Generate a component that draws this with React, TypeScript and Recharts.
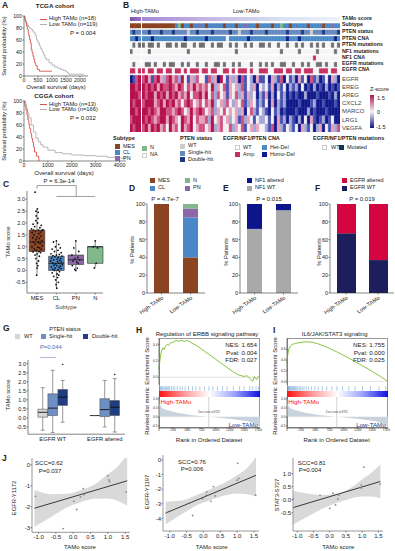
import React from "react";
import {
  LineChart, Line, XAxis, YAxis, BarChart, Bar, Cell, ComposedChart, Scatter,
  ReferenceArea, ReferenceLine, Area, AreaChart, ScatterChart,
} from "recharts";

const FONT = "'Liberation Sans', Arial, Helvetica, sans-serif";

// ---------- A: Kaplan-Meier ----------
const tcgaHighT = [0, 30, 60, 90, 120, 150, 170, 200, 230, 260, 290, 320, 350, 380, 420, 470, 550, 1000];
const tcgaHighS = [100, 94, 89, 83, 78, 72, 67, 61, 55, 44, 39, 33, 28, 22, 17, 11, 8, 8];
const tcgaLowT = [0, 20, 50, 80, 120, 160, 200, 250, 300, 350, 400, 450, 500, 550, 600, 650, 700, 750, 800, 900, 1000, 1100, 1200, 1300, 1400, 1500, 1550, 1600, 2150];
const tcgaLowS = [100, 97, 92, 88, 85, 82, 80, 78, 75, 72, 67, 60, 55, 50, 45, 40, 35, 30, 27, 22, 18, 15, 13, 11, 9, 7, 5, 3, 3];
const cggaHighT = [0, 40, 80, 120, 160, 200, 240, 280, 320, 360, 400, 440, 520, 620];
const cggaHighS = [100, 92, 85, 77, 69, 61, 54, 46, 38, 31, 23, 15, 8, 0];
const cggaLowT = [0, 50, 100, 150, 200, 300, 400, 500, 600, 700, 800, 1000, 1300, 1600, 2000, 2500, 3000, 3500, 4000, 4400];
const cggaLowS = [100, 95, 88, 80, 72, 60, 48, 38, 32, 27, 23, 18, 14, 12, 10, 9, 8, 6, 5, 5];

// ---------- B: heatmap (High-TAMo 4 columns, Low-TAMo 66 columns) ----------
const geneNames = ["EGFR", "EREG", "AREG", "CXCL2", "MARCO", "LRG1", "VEGFA"];
const trackNames = ["TAMo score", "Subtype", "PTEN status", "PTEN CNA", "PTEN mutations", "NF1 mutations", "NF1 CNA", "EGFR mutations", "EGFR CNA"];

const hiSubtype = "MMMM";
const hiPtenStatus = "SDSS";
const hiPtenCna = "HHOH";
const hiPtenMut = ".X.X";
const hiNf1Mut = "X...";
const hiNf1Cna = "....";
const hiEgfrMut = ".X..";
const hiEgfrCna = "AA.A";
const hiGenes = ["0156", "6656", "6665", "6566", "6656", "5666", "6566"];

const loSubtype = ["MMMMMMMMMM", "MCNMCCMCCP", "CMCCCCCMCC", "CMCCPCCCMC", "CCCMCCNCCM", "CCCCCMCCCC", "MCCPCC"].join("");
const loPtenStatus = ["SSDSSSDSSS", "DSSSSWSSDS", "SSSDSSSSSD", "SSWSSSDSSS", "SDSSSSSSDS", "SSSDSSWSSS", "DSSSSD"].join("");
const loPtenCna = ["HHHOHHHHHH", "HHHHOHHHHH", "HOHHHHHHWH", "HHHHHOHHHH", "HHHHHHHHOH", "HHOHHHHHHH", "HHHHOH"].join("");
const loPtenMut = ["X.XX.X..XX", ".X.XX..X.X", "X..X.XX..X", ".X..X.X..X", "X.X..X..X.", ".X.X..X.X.", "X..X.X"].join("");
const loNf1Mut = ["..X.......", ".....X....", "..........", ".X........", "......X...", "..X.....X.", "....X."].join("");
const loNf1Cna = ["..........", "..........", "..........", "..........", "..........", ".......A..", "......"].join("");
const loEgfrMut = [".XX.X..X.X", "X..X.X..X.", ".X..XX.X..", "X.X...X..X", ".X.X..XX..", "X..X.X..XX", ".X..X."].join("");
const loEgfrCna = ["A.AA.AA.AA", ".AA.A.AAA.", "AA.AA..AA.", "A.AAA.A..A", "AA..AAA.AA", ".AA.AAA..A", "AA.AA."].join("");
const loGenes = [
  ["5641564256", "4526314253", "3152406314", "2405132041", "1304215031", "2041305120", "130420"],
  ["6565646556", "5465354645", "4536243514", "3425132403", "2314021302", "1203010201", "020101"],
  ["6566465646", "5645463556", "4635253414", "3524142302", "1402031201", "0100200010", "001020"],
  ["5666456465", "6453565345", "3546234253", "2435124312", "1304021200", "0010001200", "100010"],
  ["6656546655", "4565346456", "5345243534", "3424035213", "2103120100", "0100020100", "010000"],
  ["6565456646", "5436546354", "4526345342", "3415243132", "2313041202", "1020304101", "201300"],
  ["5646564536", "4536456345", "5346245335", "2435134243", "3215042132", "1304213024", "031425"],
].map((g) => g.join(""));

// ---------- C: TAMo score by subtype ----------
const subtypes = ["MES", "CL", "PN", "N"];
const cLo = [-0.2, -0.75, 0.0, 0.1];
const cQ1 = [0.8, 0.0, 0.25, 0.3];
const cMed = [1.2, 0.3, 0.45, 1.0];
const cQ3 = [1.7, 0.6, 0.65, 1.0];
const cHi = [2.6, 1.25, 1.25, 1.25];
const mesY = [3.3, 2.6, 2.5, 2.45, 2.3, 2.2, 2.1, 2.0, 1.95, 1.9, 1.85, 1.8, 1.75, 1.72, 1.7, 1.7, 1.68, 1.65, 1.62, 1.6, 1.55, 1.5, 1.45, 1.4, 1.38, 1.35, 1.3, 1.25, 1.2, 1.18, 1.15, 1.1, 1.05, 1.0, 0.98, 0.95, 0.9, 0.88, 0.85, 0.8, 0.78, 0.75, 0.7, 0.65, 0.6, 0.5, 0.4, 0.3, 0.2, 0.1, -0.2];
const mesDx = [-0.1, 0.02, -0.05, 0.06, -0.04, 0.05, -0.06, 0.03, -0.2, 0.22, -0.12, 0.15, -0.28, 0.3, -0.18, 0.08, 0.25, -0.08, 0.18, -0.25, 0.1, -0.15, 0.2, 0.0, -0.22, 0.12, -0.05, 0.24, -0.18, 0.06, 0.16, -0.1, 0.26, -0.26, 0.04, 0.14, -0.14, 0.22, -0.04, 0.1, -0.2, 0.18, 0.0, -0.1, 0.12, -0.06, 0.08, -0.02, 0.04, 0.0, -0.02];
const clY = [1.25, 1.2, 1.1, 1.0, 0.95, 0.9, 0.85, 0.8, 0.75, 0.7, 0.68, 0.65, 0.62, 0.6, 0.58, 0.55, 0.52, 0.5, 0.48, 0.45, 0.42, 0.4, 0.38, 0.35, 0.32, 0.3, 0.28, 0.25, 0.22, 0.2, 0.18, 0.15, 0.12, 0.1, 0.08, 0.05, 0.02, 0.0, -0.05, -0.1, -0.15, -0.2, -0.25, -0.3, -0.4, -0.5, -0.6, -0.75];
const clDx = [0.0, -0.15, 0.12, -0.05, 0.2, -0.22, 0.08, -0.1, 0.25, -0.28, 0.15, 0.0, -0.18, 0.28, -0.08, 0.1, -0.25, 0.22, 0.04, -0.14, 0.18, -0.3, 0.06, 0.26, -0.2, 0.12, -0.04, 0.3, -0.12, 0.02, 0.2, -0.26, 0.14, -0.06, 0.24, -0.18, 0.08, -0.1, 0.16, -0.22, 0.04, 0.12, -0.14, 0.06, -0.04, 0.1, -0.02, 0.02];
const pnY = [1.25, 0.95, 0.8, 0.65, 0.55, 0.5, 0.45, 0.4, 0.35, 0.3, 0.2, 0.1, 0.05, 0.0];
const pnDx = [0.0, -0.1, 0.15, -0.2, 0.1, -0.05, 0.2, -0.15, 0.05, 0.12, -0.18, 0.08, -0.06, 0.0];
const nY = [1.25, 1.0, 0.95, 0.3, 0.1];
const nDx = [0.0, -0.1, 0.12, 0.05, -0.05];

// ---------- D/E/F: % patients ----------
const groups = ["High-TAMo", "Low-TAMo"];
const dMes = [100, 40];
const dCl = [0, 45];
const dPn = [0, 10];
const dN = [0, 5];
const eWt = [72, 93];
const eAlt = [28, 7];
const fWt = [67, 37];
const fAlt = [33, 63];

// ---------- G: PTEN status within EGFR groups ----------
const gPos = [1, 2, 3, 6.2, 7.2, 8.2];
const gLo = [-0.68, -0.81, -0.24, 0.13, -0.5, -0.78];
const gQ1 = [0.04, 0.13, 0.69, 0.13, 0.07, 0.13];
const gMed = [0.31, 0.54, 1.15, 0.13, 0.46, 0.59];
const gQ3 = [0.48, 1.33, 1.57, 0.13, 1.06, 0.96];
const gHi = [1.67, 2.63, 2.07, 0.13, 2.07, 2.17];
const gOutX = [3, 8.2];
const gOutY = [2.95, 2.4];

// ---------- H/I: GSEA ----------
const hEsX = [0, 150, 300, 500, 700, 900, 1100, 1400, 1700, 2000, 2500, 3000, 3500, 4000, 4500, 5000, 5500, 6000, 7000, 8000, 9000, 10000, 11000, 12000, 13000, 14000, 15000, 15500, 16000, 16500, 16800, 17200, 17500, 17800];
const hEsY = [0.1, 0.2, 0.28, 0.33, 0.36, 0.34, 0.38, 0.4, 0.39, 0.42, 0.43, 0.45, 0.44, 0.45, 0.44, 0.45, 0.43, 0.41, 0.37, 0.32, 0.27, 0.22, 0.17, 0.12, 0.07, 0.03, 0.01, 0.02, -0.01, -0.05, 0.01, -0.03, 0.01, 0.0];
const hHits = [100, 250, 400, 550, 700, 900, 1100, 1300, 1450, 1700, 1900, 2200, 2500, 2800, 3200, 3700, 4100, 4600, 5200, 5900, 6500, 7200, 8000, 8800, 9500, 10300, 11200, 12000, 13100, 14200, 15000, 16000, 16500, 17100, 17500];
const iEsX = [0, 100, 300, 600, 900, 1500, 2500, 3500, 4500, 5500, 7000, 9000, 11000, 13000, 15000, 16500, 17800];
const iEsY = [0.33, 0.48, 0.6, 0.66, 0.69, 0.71, 0.73, 0.74, 0.73, 0.7, 0.64, 0.54, 0.43, 0.31, 0.19, 0.09, 0.0];
const iHits = [50, 150, 250, 350, 450, 550, 700, 850, 1000, 1150, 1300, 1500, 1700, 1900, 2150, 2400, 2700, 3000, 3400, 3800, 4300, 4900, 5500, 6200, 7000, 7900, 8800, 9800, 10900, 12000, 13300, 14700, 16200, 17400];
const rankX = [0, 150, 400, 800, 1500, 2500, 4000, 6000, 8762, 11000, 13000, 15000, 16200, 17000, 17500, 17800];
const rankM = [1.05, 0.7, 0.55, 0.45, 0.36, 0.28, 0.18, 0.09, 0, -0.07, -0.14, -0.22, -0.3, -0.4, -0.5, -0.6];

// ---------- J: correlations ----------
const j1X = [-1.09, -0.29, 0.02, 0.1, 0.21, 0.29, 0.31, 1.0, 1.03, 1.05, 1.53];
const j1Y = [-1.5, -3.04, -1.74, -2.13, -1.53, -1.13, -1.42, -0.52, -0.72, -0.8, -1.29];
const j2X = [-1.1, -0.32, -0.02, 0.08, 0.1, 0.22, 0.3, 0.35, 1.0, 1.05, 1.02, 1.55];
const j2Y = [-3.6, -3.8, -2.64, -2.41, -2.18, -2.83, -1.82, -2.46, -1.38, -1.26, -0.23, -2.41];
const j3X = [-1.12, -0.3, 0.0, 0.1, 0.18, 0.25, 0.28, 0.97, 0.97, 1.05, 1.55];
const j3Y = [0.03, 0.17, -0.33, 0.25, -0.2, 0.03, 0.17, 0.56, 0.45, 1.25, 0.6];
const fitX = [-1.12, 1.56];
const j1Fit = [-2.07, -0.76];
const j2Fit = [-3.63, -1.05];
const j3Fit = [-0.3, 0.7];
const bandX = [-1.12, -0.6, -0.2, 0.2, 0.6, 1.0, 1.3, 1.56];
const j1Lo = [-2.95, -2.45, -2.05, -1.8, -1.62, -1.6, -1.72, -1.95];
const j1Hi = [-1.2, -1.4, -1.38, -1.22, -0.95, -0.45, -0.05, 0.5];
const j2Lo = [-4.4, -3.65, -3.1, -2.75, -2.45, -2.3, -2.35, -2.5];
const j2Hi = [-2.85, -2.75, -2.4, -2.0, -1.6, -1.05, -0.55, 0.2];
const j3Lo = [-0.95, -0.6, -0.33, -0.13, 0.03, 0.12, 0.12, 0.05];
const j3Hi = [0.33, 0.22, 0.18, 0.23, 0.42, 0.78, 1.05, 1.35];

// ---------- styles ----------
const HEAT = ["#10188a", "#4650b0", "#a3a8d6", "#f4f1f4", "#e6a3bb", "#d05282", "#b3124b"];
const SUB_C: any = { M: "#8b4422", C: "#4a87c6", P: "#8c68a8", N: "#80b88a", A: "#ffffff" };
const PS_C: any = { W: "#cccccc", S: "#6688bf", D: "#1d3a80" };
const CNA_C: any = { ".": "#f6f6f8", W: "#f6f6f8", A: "#c7305e", H: "#4b8bc9", O: "#0d1a8c" };
const MUT_C: any = { ".": "#f6f6f8", X: "#6f6f6f" };
const ax = { stroke: "#333", strokeWidth: 0.6 };
const tk = (s = 5.5) => ({ fontSize: s, fill: "#222", fontFamily: FONT });
const f1 = (v: number) => v.toFixed(1);

const T = ({ x, y, s = 6, b, c = "#222", a = "l", rot, children }: any) => {
  const tx = a === "m" ? "-50%" : a === "r" ? "-100%" : "0";
  return (
    <div style={{
      position: "absolute", left: x, top: y, fontSize: s, fontWeight: b ? 700 : 400, color: c,
      whiteSpace: "nowrap", lineHeight: 1,
      transform: rot ? "translate(-50%,-50%) rotate(-90deg)" : `translate(${tx},-50%)`,
    }}>{children}</div>
  );
};
const Sw = ({ x, y, c, w = 5, h = 5, bd }: any) => (
  <div style={{ position: "absolute", left: x, top: y, width: w, height: h, background: c, boxSizing: "border-box", border: bd ? `0.5px solid ${bd}` : undefined }} />
);
const Ln = ({ x, y, w, c }: any) => (
  <div style={{ position: "absolute", left: x, top: y, width: w, height: 0, borderTop: `1px solid ${c}` }} />
);
const dot = (r: number, c: string) => (p: any) => <circle cx={p.cx} cy={p.cy} r={r} fill={c} />;

function KM({ x0, y0, w, h, xMax, xTicks, hiT, hiS, loT, loS }: any) {
  const yW = 13, xH = 9, mt = 3, mr = 4;
  const hi = hiT.map((t: number, i: number) => ({ t, s: hiS[i] }));
  const lo = loT.map((t: number, i: number) => ({ t, s: loS[i] }));
  return (
    <div style={{ position: "absolute", left: x0 - yW, top: y0 - mt }}>
      <LineChart width={yW + w + mr} height={mt + h + xH} margin={{ top: mt, right: mr, bottom: 0, left: 0 }}>
        <XAxis type="number" dataKey="t" domain={[0, xMax]} ticks={xTicks} interval={0} height={xH} tick={tk(5.3)} tickSize={1.5} tickMargin={0.5} axisLine={ax} tickLine={ax} allowDataOverflow />
        <YAxis type="number" dataKey="s" domain={[0, 100]} ticks={[0, 20, 40, 60, 80, 100]} interval={0} width={yW} tick={tk(5.3)} tickSize={1.5} tickMargin={0.5} axisLine={ax} tickLine={ax} />
        <Line data={lo} dataKey="s" type="stepAfter" stroke="#b0b0b0" strokeWidth={0.9} dot={false} isAnimationActive={false} />
        <Line data={hi} dataKey="s" type="stepAfter" stroke="#d9534f" strokeWidth={0.9} dot={false} isAnimationActive={false} />
      </LineChart>
    </div>
  );
}

const TH = 4.6, TG = 1.85, GG = 2.1, GH = 8.1, HEAT_H = 115;

function HeatSection({ left, width, s }: any) {
  const tracks = [
    { str: s.sub, map: null },
    { str: s.sub, map: SUB_C },
    { str: s.ps, map: PS_C },
    { str: s.pc, map: CNA_C },
    { str: s.pm, map: MUT_C },
    { str: s.nm, map: MUT_C },
    { str: s.nc, map: CNA_C },
    { str: s.em, map: MUT_C },
    { str: s.ec, map: CNA_C },
  ];
  const layers: any[] = [];
  tracks.forEach((tr, k) => {
    if (k > 0) layers.push({ key: "gap" + k, h: TG, fill: () => "none" });
    layers.push({ key: "tr" + k, h: TH, fill: (i: number) => (tr.map ? tr.map[tr.str[i]] : "none") });
  });
  layers.push({ key: "gapG", h: GG, fill: () => "none" });
  s.genes.forEach((g: string, k: number) => layers.push({ key: "gene" + k, h: GH, fill: (i: number) => HEAT[+g[i]] }));
  const n = s.sub.length;
  const data = Array.from({ length: n }, (_, i) => {
    const o: any = { i };
    layers.forEach((l) => (o[l.key] = l.h));
    return o;
  });
  return (
    <div style={{ position: "absolute", left, top: 16.7 }}>
      <BarChart width={width} height={HEAT_H} data={data} margin={{ top: 0, right: 0, bottom: 0, left: 0 }} barCategoryGap={0} barGap={0}>
        <XAxis dataKey="i" hide />
        <YAxis type="number" hide reversed domain={[0, HEAT_H]} allowDataOverflow />
        {layers.map((l) => (
          <Bar key={l.key} dataKey={l.key} stackId="h" isAnimationActive={false}>
            {data.map((d, i) => {
              const f = l.fill(i);
              return <Cell key={i} fill={f} stroke={f === "none" ? "none" : f} strokeWidth={0.35} />;
            })}
          </Bar>
        ))}
      </BarChart>
    </div>
  );
}

function boxShapes(id: string, x: number, lo: number, q1: number, med: number, q3: number, hi: number, hw: number, fill: string, edge: string, medC: string, cap: number) {
  const out = [
    <ReferenceLine key={id + "a"} segment={[{ x, y: lo }, { x, y: q1 }]} stroke={edge} strokeWidth={0.6} ifOverflow="visible" />,
    <ReferenceLine key={id + "b"} segment={[{ x, y: q3 }, { x, y: hi }]} stroke={edge} strokeWidth={0.6} ifOverflow="visible" />,
    <ReferenceArea key={id + "c"} x1={x - hw} x2={x + hw} y1={q1} y2={q3} fill={fill} fillOpacity={1} stroke={edge} strokeWidth={0.6} ifOverflow="visible" />,
    <ReferenceLine key={id + "d"} segment={[{ x: x - hw, y: med }, { x: x + hw, y: med }]} stroke={medC} strokeWidth={0.9} ifOverflow="visible" />,
  ];
  if (cap > 0) {
    out.push(<ReferenceLine key={id + "e"} segment={[{ x: x - cap, y: lo }, { x: x + cap, y: lo }]} stroke={edge} strokeWidth={0.6} ifOverflow="visible" />);
    out.push(<ReferenceLine key={id + "f"} segment={[{ x: x - cap, y: hi }, { x: x + cap, y: hi }]} stroke={edge} strokeWidth={0.6} ifOverflow="visible" />);
  }
  return out;
}

function PanelC() {
  const yW = 12, xH = 10, mt = 12;
  const plotW = 76, plotH = 102;
  const fills = ["#8b4422", "#4a87c6", "#8c68a8", "#80b88a"];
  const pts: any[] = [];
  [[mesY, mesDx], [clY, clDx], [pnY, pnDx], [nY, nDx]].forEach(([ys, dxs], g) =>
    ys.forEach((y: number, i: number) => pts.push({ x: g + 1 + (dxs[i] ?? 0), y })));
  const br = "#777";
  return (
    <div style={{ position: "absolute", left: 26.7 - yW, top: 190.7 - mt }}>
      <ComposedChart width={yW + plotW + 2} height={mt + plotH + xH} margin={{ top: mt, right: 2, bottom: 0, left: 0 }}>
        <XAxis type="number" dataKey="x" domain={[0.485, 4.4]} ticks={[1, 2, 3, 4]} interval={0} tickFormatter={(v) => subtypes[v - 1]} height={xH} tick={tk(5.8)} tickSize={1.5} tickMargin={1} axisLine={ax} tickLine={ax} allowDataOverflow />
        <YAxis type="number" dataKey="y" domain={[-0.95, 3.35]} ticks={[-0.5, 0, 0.5, 1, 1.5, 2, 2.5, 3]} interval={0} tickFormatter={f1} width={yW} tick={tk(5.5)} tickSize={1.5} tickMargin={0.5} axisLine={ax} tickLine={ax} allowDataOverflow />
        {subtypes.flatMap((s, g) => boxShapes("c" + g, g + 1, cLo[g], cQ1[g], cMed[g], cQ3[g], cHi[g], 0.4, fills[g], "#333", "#222", 0))}
        <ReferenceLine segment={[{ x: 1, y: 3.45 }, { x: 1, y: 3.58 }]} stroke={br} strokeWidth={0.7} ifOverflow="visible" />
        <ReferenceLine segment={[{ x: 1, y: 3.58 }, { x: 3.02, y: 3.58 }]} stroke={br} strokeWidth={0.7} ifOverflow="visible" />
        <ReferenceLine segment={[{ x: 3.02, y: 3.58 }, { x: 3.02, y: 3.12 }]} stroke={br} strokeWidth={0.7} ifOverflow="visible" />
        <ReferenceLine segment={[{ x: 2.0, y: 3.12 }, { x: 4.0, y: 3.12 }]} stroke={br} strokeWidth={0.7} ifOverflow="visible" />
        <Scatter data={pts} fill="#111" shape={dot(0.9, "#111")} isAnimationActive={false} />
      </ComposedChart>
    </div>
  );
}

function StackPct({ px, w, barSize, series }: any) {
  const yW = 12, mt = 3, xH = 24, h = 89;
  const data = groups.map((g, i) => {
    const o: any = { g };
    series.forEach((s: any) => (o[s.key] = s.vals[i]));
    return o;
  });
  return (
    <div style={{ position: "absolute", left: px - yW, top: 204 - mt }}>
      <BarChart width={yW + w} height={mt + h + xH} data={data} margin={{ top: mt, right: 0, left: 0, bottom: 0 }} barSize={barSize}>
        <XAxis dataKey="g" height={xH} interval={0} tick={tk(5.5)} angle={-35} textAnchor="end" tickSize={1.5} tickMargin={1} axisLine={ax} tickLine={ax} />
        <YAxis type="number" domain={[0, 100]} ticks={[0, 20, 40, 60, 80, 100]} interval={0} width={yW} tick={tk(5.5)} tickSize={1.5} tickMargin={0.5} axisLine={ax} tickLine={ax} />
        {series.map((s: any) => <Bar key={s.key} dataKey={s.key} stackId="p" fill={s.color} isAnimationActive={false} />)}
      </BarChart>
    </div>
  );
}

function PanelG() {
  const yW = 12, xH = 12, mt = 3;
  const plotW = 97, plotH = 74.2;
  const fills = ["#d6d6d6", "#6e8fc3", "#1f3d80"];
  const out = gOutX.map((x, i) => ({ x, y: gOutY[i] }));
  const blue = "#4a6bb5";
  return (
    <div style={{ position: "absolute", left: 28.3 - yW, top: 359.7 - mt }}>
      <ComposedChart width={yW + plotW + 2} height={mt + plotH + xH} margin={{ top: mt, right: 2, bottom: 0, left: 0 }}>
        <XAxis type="number" dataKey="x" domain={[-0.47, 9.23]} ticks={[2, 7.2]} interval={0} tickFormatter={(v) => (v < 5 ? "EGFR WT" : "EGFR altered")} height={xH} tick={tk(5.8)} tickSize={0} tickMargin={3} axisLine={ax} tickLine={false} allowDataOverflow />
        <YAxis type="number" dataKey="y" domain={[-0.9, 3.2]} ticks={[-0.5, 0, 0.5, 1, 1.5, 2, 2.5, 3]} interval={0} tickFormatter={f1} width={yW} tick={tk(5.5)} tickSize={1.5} tickMargin={0.5} axisLine={ax} tickLine={ax} allowDataOverflow />
        {gPos.flatMap((x, k) => boxShapes("g" + k, x, gLo[k], gQ1[k], gMed[k], gQ3[k], gHi[k], 0.48, fills[k % 3], "#555", "#111", 0.2))}
        <ReferenceLine segment={[{ x: 0.7, y: 3.36 }, { x: 2.35, y: 3.36 }]} stroke={blue} strokeWidth={0.8} ifOverflow="visible" />
        <ReferenceLine segment={[{ x: 1.7, y: 3.36 }, { x: 1.7, y: 3.52 }]} stroke={blue} strokeWidth={0.8} ifOverflow="visible" />
        <ReferenceLine segment={[{ x: 1.7, y: 3.52 }, { x: 3.0, y: 3.52 }]} stroke={blue} strokeWidth={0.8} ifOverflow="visible" />
        <Scatter data={out} shape={dot(0.8, "#222")} isAnimationActive={false} />
      </ComposedChart>
    </div>
  );
}

function Gsea({ px, esDom, esTicks, esX, esY, hits, title, stats, letter, lx }: any) {
  const w = 101, yW = 9, rr = 5;
  const esData = esX.map((x: number, i: number) => ({ x, y: esY[i] }));
  const rk = rankX.map((x, i) => ({ x, y: rankM[i] }));
  const hitData = hits.map((h: number) => ({ x: h, y: 0.5 }));
  const tick = (p: any) => <line x1={p.cx} x2={p.cx} y1={p.cy - 2.2} y2={p.cy + 2.2} stroke="#5f95c9" strokeWidth={0.5} />;
  return (
    <>
      <T x={lx} y={330} s={8.5} b>{letter}</T>
      <T x={px + 48} y={334} s={6} a="m">{title}</T>
      <T x={px - 12} y={361} s={6} rot>Enrichment Score</T>
      <T x={px - 12} y={411} s={6} rot>Ranked list metric</T>
      <div style={{ position: "absolute", left: px, top: 338.3, width: w, height: 90, boxSizing: "border-box", border: "0.5px solid #999" }} />
      <div style={{ position: "absolute", left: px - yW, top: 338.3 }}>
        <LineChart width={w + yW} height={46.7} margin={{ top: 0, right: 0, left: 0, bottom: 0 }}>
          <XAxis type="number" dataKey="x" domain={[0, 17800]} hide />
          <YAxis type="number" dataKey="y" domain={esDom} ticks={esTicks} interval={0} width={yW} tick={tk(3.2)} tickSize={1} tickMargin={0.5} axisLine={ax} tickLine={ax} tickFormatter={f1} allowDataOverflow />
          <ReferenceLine y={0} stroke="#c8c8c8" strokeWidth={0.5} />
          <Line data={esData} dataKey="y" type="linear" stroke="#86c440" strokeWidth={1} dot={false} isAnimationActive={false} />
        </LineChart>
      </div>
      <div style={{ position: "absolute", left: px, top: 385.6 }}>
        <ScatterChart width={w} height={5} margin={{ top: 0, right: 0, left: 0, bottom: 0 }}>
          <XAxis type="number" dataKey="x" domain={[0, 17800]} hide />
          <YAxis type="number" dataKey="y" domain={[0, 1]} hide />
          <Scatter data={hitData} shape={tick} isAnimationActive={false} />
        </ScatterChart>
      </div>
      <div style={{ position: "absolute", left: px, top: 391, width: w, height: 6.3, background: "linear-gradient(to right, #ff1010, #ff9a9a 25%, #ffffff 50%, #9aa2ff 75%, #1010e0)" }} />
      <div style={{ position: "absolute", left: px - yW, top: 397.3 }}>
        <AreaChart width={w + yW + rr} height={31 + 6} data={rk} margin={{ top: 0, right: rr, left: 0, bottom: 0 }}>
          <XAxis type="number" dataKey="x" domain={[0, 17800]} ticks={[0, 2500, 5000, 7500, 10000, 12500, 15000, 17500]} interval={0} height={6} tick={tk(2.6)} tickSize={1} tickMargin={0} axisLine={ax} tickLine={ax} />
          <YAxis type="number" dataKey="y" domain={[-0.62, 1.1]} ticks={[-0.5, 0, 0.5, 1]} interval={0} width={yW} tick={tk(3.2)} tickSize={1} tickMargin={0.5} axisLine={ax} tickLine={ax} tickFormatter={f1} />
          <ReferenceLine x={8762} stroke="#aaa" strokeWidth={0.5} />
          <Area dataKey="y" type="monotone" fill="#c9d3de" fillOpacity={1} stroke="none" isAnimationActive={false} />
        </AreaChart>
      </div>
      <T x={px + 1.5} y={401.7} s={6.2} c="#f0141e">High-TAMo</T>
      <T x={px + w - 2} y={425} s={6.2} c="#1f3a8a" a="r">Low-TAMo</T>
      <T x={px + 50} y={413} s={2.6} a="m" c="#444">Zero score at 8762</T>
      <T x={px + 50} y={440} s={6} a="m">Rank in Ordered Dataset</T>
      {stats.map((s: string, i: number) => (
        <T key={s} x={px + w - 3} y={345 + 7.5 * i} s={6.2} a="r">{s}</T>
      ))}
    </>
  );
}

function JPlot({ px, w, top, h, xDom, yDom, yTicks, yFmt, ptsX, ptsY, fitY, lo, hi }: any) {
  const yW = 12, xH = 11;
  const band = bandX.map((x, i) => ({ x, r: [lo[i], hi[i]] }));
  const pts = ptsX.map((x: number, i: number) => ({ x, y: ptsY[i] }));
  const fit = fitX.map((x, i) => ({ x, y: fitY[i] }));
  return (
    <div style={{ position: "absolute", left: px - yW, top }}>
      <ComposedChart width={yW + w + 2} height={h + xH} data={band} margin={{ top: 0, right: 2, left: 0, bottom: 0 }}>
        <XAxis type="number" dataKey="x" domain={xDom} ticks={[-1, -0.5, 0, 0.5, 1, 1.5]} interval={0} tickFormatter={f1} height={xH} tick={tk(6)} tickSize={1.5} tickMargin={1} axisLine={{ stroke: "#555", strokeWidth: 0.6 }} tickLine={ax} allowDataOverflow />
        <YAxis type="number" dataKey="y" domain={yDom} ticks={yTicks} interval={0} tickFormatter={yFmt} width={yW} tick={tk(6)} tickSize={1.5} tickMargin={0.5} axisLine={{ stroke: "#555", strokeWidth: 0.6 }} tickLine={ax} allowDataOverflow />
        <Area dataKey="r" type="monotone" fill="#d9d9d9" fillOpacity={1} stroke="none" isAnimationActive={false} />
        <Line data={fit} dataKey="y" type="linear" stroke="#3a3a3a" strokeWidth={1} dot={false} isAnimationActive={false} />
        <Scatter data={pts} shape={dot(0.9, "#8a8a8a")} isAnimationActive={false} />
      </ComposedChart>
    </div>
  );
}

export default function App() {
  const hiSec = { sub: hiSubtype, ps: hiPtenStatus, pc: hiPtenCna, pm: hiPtenMut, nm: hiNf1Mut, nc: hiNf1Cna, em: hiEgfrMut, ec: hiEgfrCna, genes: hiGenes };
  const loSec = { sub: loSubtype, ps: loPtenStatus, pc: loPtenCna, pm: loPtenMut, nm: loNf1Mut, nc: loNf1Cna, em: loEgfrMut, ec: loEgfrCna, genes: loGenes };
  const trackY = [19, 25, 32.3, 38.7, 45.3, 52.3, 58.3, 64.3, 70.3];
  return (
    <div style={{ position: "absolute", left: 0, top: 0, width: 395, height: 551, background: "#fff", fontFamily: FONT, overflow: "hidden", color: "#222" }}>
      {/* A */}
      <T x={2} y={5} s={8.5} b>A</T>
      <T x={55} y={6} s={6.2} b a="m">TCGA cohort</T>
      <KM x0={24} y0={16} w={64} h={60} xMax={2286} xTicks={[0, 500, 1000, 1500, 2000]} hiT={tcgaHighT} hiS={tcgaHighS} loT={tcgaLowT} loS={tcgaLowS} />
      <T x={5} y={46} s={5.8} rot>Survival probability (%)</T>
      <T x={56} y={86.5} s={6} a="m">Overall survival (days)</T>
      <Ln x={40} y={18.5} w={7} c="#d9534f" />
      <T x={49} y={19} s={5.8}>High TAMo (n=18)</T>
      <Ln x={40} y={24} w={7} c="#b0b0b0" />
      <T x={49} y={24.5} s={5.8}>Low TAMo (n=119)</T>
      <T x={70} y={32.5} s={6}>P = 0.004</T>

      <T x={54} y={95.5} s={6.2} b a="m">CGGA cohort</T>
      <KM x0={24} y0={101} w={102} h={60} xMax={4270} xTicks={[0, 1000, 2000, 3000, 4000]} hiT={cggaHighT} hiS={cggaHighS} loT={cggaLowT} loS={cggaLowS} />
      <T x={5} y={131} s={5.8} rot>Survival probability (%)</T>
      <T x={64} y={173} s={6} a="m">Overall survival (days)</T>
      <Ln x={40} y={104.3} w={7} c="#d9534f" />
      <T x={49} y={104.8} s={5.8}>High TAMo (n=13)</T>
      <Ln x={40} y={109.3} w={7} c="#b0b0b0" />
      <T x={49} y={109.8} s={5.8}>Low TAMo (n=166)</T>
      <T x={70} y={117.8} s={6}>P = 0.032</T>

      {/* B */}
      <T x={123} y={5} s={8.5} b>B</T>
      <T x={131} y={11.5} s={5.6}>High-TAMo</T>
      <T x={233} y={12} s={5.6}>Low-TAMo</T>
      <HeatSection left={130} width={10.8} s={hiSec} />
      <HeatSection left={141.8} width={198.2} s={loSec} />
      <div style={{ position: "absolute", left: 130, top: 16.7, width: 10.8, height: TH, background: "linear-gradient(to right, #7b54ad, #9876c6)" }} />
      <div style={{ position: "absolute", left: 141.8, top: 16.7, width: 198.2, height: TH, background: "linear-gradient(to right, #a48ad2, #c3b2e2 30%, #d9e0f1 70%, #eef2f8)" }} />
      {trackNames.map((n, i) => <T key={n} x={342} y={trackY[i]} s={5.3} b>{n}</T>)}
      {geneNames.map((g, i) => <T key={g} x={342} y={75 + GH * (i + 0.5)} s={6} c="#444">{g}</T>)}
      <T x={370} y={90} s={5.6}>Z-score</T>
      <div style={{ position: "absolute", left: 370, top: 95, width: 3.5, height: 33, background: `linear-gradient(to bottom, ${HEAT[6]}, ${HEAT[3]}, ${HEAT[0]})` }} />
      <T x={377} y={99} s={5.6}>1.5</T>
      <T x={377} y={113} s={5.6}>0</T>
      <T x={376} y={128} s={5.6}>-1.5</T>

      <T x={113} y={139} s={5.5} b>Subtype</T>
      <Sw x={115} y={144} c={SUB_C.M} /><T x={123} y={146.5} s={5.5}>MES</T>
      <Sw x={115} y={150} c={SUB_C.C} /><T x={123} y={152.5} s={5.5}>CL</T>
      <Sw x={115} y={156} c={SUB_C.P} /><T x={123} y={158.5} s={5.5}>PN</T>
      <Sw x={141.7} y={145.5} c={SUB_C.N} /><T x={150} y={148} s={5.5}>N</T>
      <Sw x={141.7} y={152.5} c="#fff" bd="#ccc" /><T x={150} y={155} s={5.5}>NA</T>

      <T x={180} y={139} s={5.5} b>PTEN status</T>
      <Sw x={180} y={144} c={PS_C.W} /><T x={188} y={146.3} s={5.5}>WT</T>
      <Sw x={180} y={150.5} c={PS_C.S} /><T x={188} y={153} s={5.5}>Single-hit</T>
      <Sw x={180} y={157} c={PS_C.D} /><T x={188} y={159.5} s={5.5}>Double-hit</T>

      <T x={223} y={139} s={5.5} b>EGFR/NF1/PTEN CNA</T>
      <Sw x={235} y={145} c="#fff" bd="#ccc" /><T x={243} y={147.5} s={5.5}>WT</T>
      <Sw x={235} y={152.3} c={CNA_C.A} /><T x={243} y={154.8} s={5.5}>Amp</T>
      <Sw x={261.7} y={145} c={CNA_C.H} /><T x={270} y={147.5} s={5.5}>Het-Del</T>
      <Sw x={261.7} y={152.3} c={CNA_C.O} /><T x={270} y={154.8} s={5.5}>Homo-Del</T>

      <T x={313} y={139} s={5.5} b>EGFR/NF1/PTEN mutations</T>
      <Sw x={322} y={145} c="#fff" bd="#ccc" /><T x={331} y={147.5} s={5.5}>WT</T>
      <Sw x={338.5} y={145} c="#17344f" /><T x={347} y={147.5} s={5.5}>Mutated</T>

      {/* C */}
      <T x={3} y={184} s={8.5} b>C</T>
      <T x={59} y={181} s={6} a="m">P = 6.3e-14</T>
      <PanelC />
      <T x={9} y={242} s={5.8} rot>TAMo score</T>
      <T x={66} y={308} s={5.8} a="m" c="#444">Subtype</T>

      {/* D */}
      <T x={129} y={188} s={8.5} b>D</T>
      <Sw x={150} y={178} c={SUB_C.M} /><T x={158} y={180.5} s={5.5}>MES</T>
      <Sw x={185} y={178} c={SUB_C.N} /><T x={193} y={180.5} s={5.5}>N</T>
      <Sw x={150} y={185.5} c={SUB_C.C} /><T x={158} y={188} s={5.5}>CL</T>
      <Sw x={185} y={185.5} c={SUB_C.P} /><T x={193} y={188} s={5.5}>PN</T>
      <T x={165} y={199} s={6} a="m">P = 4.7e-7</T>
      <StackPct px={146.7} w={58} barSize={15} series={[
        { key: "mes", vals: dMes, color: "#8b4422" },
        { key: "cl", vals: dCl, color: "#4a87c6" },
        { key: "pn", vals: dPn, color: "#8c68a8" },
        { key: "n", vals: dN, color: "#80b88a" },
      ]} />
      <T x={133} y={250} s={5.8} rot>% Patients</T>

      {/* E */}
      <T x={223} y={188} s={8.5} b>E</T>
      <Sw x={246.7} y={178} c="#0c158a" /><T x={255} y={180.5} s={5.5}>NF1 altered</T>
      <Sw x={246.7} y={185.5} c="#a9a9a9" /><T x={255} y={188} s={5.5}>NF1 WT</T>
      <T x={269} y={199} s={6} a="m">P = 0.015</T>
      <StackPct px={240} w={58} barSize={15} series={[
        { key: "wt", vals: eWt, color: "#a9a9a9" },
        { key: "alt", vals: eAlt, color: "#0c158a" },
      ]} />
      <T x={226.5} y={252} s={5.8} rot>% Patients</T>

      {/* F */}
      <T x={315} y={188} s={8.5} b>F</T>
      <Sw x={341.7} y={178} c="#d4063f" /><T x={350} y={180.5} s={5.5}>EGFR altered</T>
      <Sw x={341.7} y={185.5} c="#1c1f5c" /><T x={350} y={188} s={5.5}>EGFR WT</T>
      <T x={362} y={199} s={6} a="m">P = 0.019</T>
      <StackPct px={330} w={64} barSize={19} series={[
        { key: "wt", vals: fWt, color: "#1c1f5c" },
        { key: "alt", vals: fAlt, color: "#d4063f" },
      ]} />
      <T x={319.5} y={252} s={5.8} rot>% Patients</T>

      {/* G */}
      <T x={3} y={328} s={8.5} b>G</T>
      <T x={65} y={330} s={5.6} a="m">PTEN status</T>
      <Sw x={15} y={334} c="#d6d6d6" /><T x={24} y={336.7} s={5.6}>WT</T>
      <Sw x={40.7} y={334} c="#6e8fc3" /><T x={49} y={336.7} s={5.6}>Single-hit</T>
      <Sw x={83} y={334} c="#1f3d80" /><T x={92} y={336.7} s={5.6}>Double-hit</T>
      <T x={40} y={348} s={5.8} c="#4a6bb5">P=0.044</T>
      <PanelG />
      <T x={9} y={395} s={5.8} rot>TAMo score</T>

      {/* H / I */}
      <Gsea px={159} lx={136} letter="H" title="Regulation of ERBB signaling pathway" esDom={[-0.09, 0.48]} esTicks={[0, 0.2, 0.4]} esX={hEsX} esY={hEsY} hits={hHits} stats={["NES: 1.654", "Pval: 0.004", "FDR: 0.027"]} />
      <Gsea px={286.7} lx={273} letter="I" title="IL6/JAK/STAT3 signaling" esDom={[-0.06, 0.81]} esTicks={[0, 0.2, 0.4, 0.6]} esX={iEsX} esY={iEsY} hits={iHits} stats={["NES: 1.755", "Pval: 0.000", "FDR: 0.025"]} />

      {/* J */}
      <T x={2} y={458} s={8.5} b>J</T>
      <JPlot px={31.7} w={98} top={458} h={74.3} xDom={[-1.19, 1.64]} yDom={[-3.22, 0.33]} yTicks={[-3, -2, -1, 0]} yFmt={(v: number) => String(v)} ptsX={j1X} ptsY={j1Y} fitY={j1Fit} lo={j1Lo} hi={j1Hi} />
      <T x={49} y={463.3} s={6} a="m">SCC=0.62</T>
      <T x={50} y={470.7} s={6} a="m">P=0.037</T>
      <T x={15} y={498} s={5.8} rot>EGFR-Y1172</T>
      <T x={80} y={547} s={6} a="m">TAMo score</T>

      <JPlot px={163.3} w={96} top={455} h={76} xDom={[-1.2, 1.65]} yDom={[-4.86, 0.34]} yTicks={[-4, -3, -2, -1, 0]} yFmt={(v: number) => String(v)} ptsX={j2X} ptsY={j2Y} fitY={j2Fit} lo={j2Lo} hi={j2Hi} />
      <T x={192} y={461.7} s={6} a="m">SCC=0.76</T>
      <T x={192} y={468.5} s={6} a="m">P=0.006</T>
      <T x={148.3} y={492} s={5.8} rot>EGFR-Y1197</T>
      <T x={211.7} y={547} s={6} a="m">TAMo score</T>

      <JPlot px={293.3} w={90} top={458} h={73} xDom={[-1.13, 1.64]} yDom={[-1.2, 1.6]} yTicks={[-0.5, 0, 0.5, 1]} yFmt={f1} ptsX={j3X} ptsY={j3Y} fitY={j3Fit} lo={j3Lo} hi={j3Hi} />
      <T x={311.7} y={463} s={6} a="m">SCC=0.81</T>
      <T x={310} y={470} s={6} a="m">P=0.004</T>
      <T x={278.3} y={495} s={5.8} rot>STAT3-S727</T>
      <T x={338.3} y={547} s={6} a="m">TAMo score</T>
    </div>
  );
}
